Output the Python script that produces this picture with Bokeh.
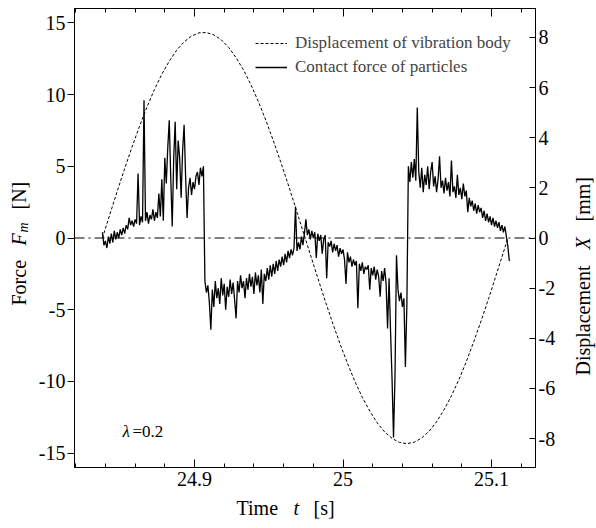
import numpy as np
from math import pi
from bokeh.plotting import figure
from bokeh.layouts import row, column
from bokeh.models import (Range1d, LinearAxis, FixedTicker, Span, Label,
                          Legend, LegendItem)
from bokeh.core.properties import value
from bokeh.embed import file_html
from bokeh.resources import INLINE

# ---------------- data ----------------
# contact force of particles [N], sampled every 1 ms from t = 24.838 s
force_t0 = 24.838
force_dt = 0.001
force = [
    0.4, -0.5, -0.2, -0.7, 0.1, -0.4, 0.3, -0.3, 0.5, -0.1,
    0.4, 0.0, 0.6, 0.2, 0.7, 0.3, 0.9, 0.6, 1.4, 0.9,
    1.2, 0.8, 1.3, 1.0, 4.5, 0.9, 1.5, 1.1, 9.6, 1.2,
    1.8, 1.0, 1.6, 1.3, 2.0, 1.2, 1.8, 1.4, 3.1, 1.5,
    4.1, 1.2, 5.6, 3.8, 6.3, 8.2, 4.2, 0.8, 5.6, 8.1,
    3.4, 6.8, 5.6, 2.8, 6.1, 7.9, 4.3, 1.4, 3.5, 4.2,
    3.0, 3.9, 3.4, 4.3, 4.6, 3.7, 4.9, 4.3, 5.0,
    -3.0, -3.8, -3.3, -4.5, -6.4, -3.6, -4.8, -3.0, -4.2, -3.5,
    -4.6, -2.8, -4.0, -3.2, -5.0, -3.4, -4.1, -2.9, -3.9, -3.1,
    -4.3, -5.6, -3.0, -3.8, -2.6, -3.5, -3.0, -4.2, -2.8, -3.6,
    -2.5, -3.4, -2.7, -3.9, -2.4, -3.3, -2.6, -3.8, -2.2, -4.6,
    -2.5, -3.0, -2.1, -2.9, -1.9, -2.7, -1.8, -2.5, -1.6, -2.3,
    -1.5, -2.0, -1.3, -1.9, -1.1, -1.7, -0.9, -1.4, -0.8, -1.2,
    -0.7, 2.2, -0.9, -0.3, -0.8, 0.1, -0.5, 0.3, 1.3, 0.2,
    0.6, -0.1, 0.5, 0.0, 0.4, -1.4, 0.3, -0.2, 0.2, -1.1,
    -0.1, 0.2, -2.8, -0.3, -0.6, -0.2, -1.0, -0.4, -0.9, -0.5,
    -1.3, -0.7, -1.1, -0.8, -1.5, -3.2, -1.0, -1.7, -1.3, -2.0,
    -1.5, -1.9, -1.6, -4.9, -1.8, -2.3, -1.7, -2.5, -2.0, -2.2,
    -1.9, -3.6, -2.1, -2.6, -2.0, -2.9, -2.2, -2.7, -4.1, -2.3,
    -3.0, -2.1, -3.2, -6.3, -2.8, -6.5, -9.8, -13.9, -9.6, -1.2,
    -3.6, -4.4, -3.8, -4.8, -4.2, -9.0, -4.6,
    5.0, 3.9, 5.3, 4.2, 5.5, 4.0, 9.1, 4.6, 3.5, 4.9,
    3.2, 4.4, 3.7, 5.0, 3.4, 4.6, 5.3, 3.6, 4.3, 3.2,
    4.1, 5.7, 3.5, 4.0, 3.1, 4.2, 3.3, 3.9, 2.9, 5.4,
    3.2, 3.6, 2.8, 4.4, 3.0, 3.5, 2.7, 3.8, 2.9, 3.3,
    1.8, 2.8, 2.2, 2.6, 1.9, 2.4, 1.7, 2.3, 1.8, 2.1,
    1.4, 1.9, 1.2, 1.7, 1.1, 1.5, 0.9, 1.4, 0.8, 1.2,
    0.7, 1.1, 0.5, 0.9, 0.4, 0.8, 0.1, -0.6, -1.6,
]
force_time = np.round(force_t0 + force_dt * np.arange(len(force)), 4)

# displacement of vibration body [mm]
disp_time = [
    24.838, 24.843, 24.848, 24.853, 24.858, 24.863, 24.868, 24.873, 24.878, 24.883,
    24.888, 24.893, 24.898, 24.903, 24.908, 24.913, 24.918, 24.923, 24.928, 24.933,
    24.938, 24.943, 24.948, 24.953, 24.958, 24.963, 24.968, 24.973, 24.978, 24.983,
    24.988, 24.993, 24.998, 25.003, 25.008, 25.013, 25.018, 25.023, 25.028, 25.033,
    25.038, 25.043, 25.048, 25.053, 25.058, 25.063, 25.068, 25.073, 25.078, 25.083,
    25.088, 25.093, 25.098, 25.103, 25.108, 25.111,
]
disp = [
    0.0, 0.94, 1.87, 2.77, 3.64, 4.46, 5.22, 5.92, 6.53, 7.05,
    7.49, 7.82, 8.05, 8.18, 8.19, 8.10, 7.90, 7.60, 7.19, 6.70,
    6.11, 5.44, 4.70, 3.89, 3.04, 2.15, 1.22, 0.28, -0.66, -1.59,
    -2.51, -3.39, -4.22, -5.00, -5.72, -6.35, -6.90, -7.37, -7.73, -7.99,
    -8.15, -8.20, -8.14, -7.97, -7.70, -7.33, -6.85, -6.29, -5.65, -4.93,
    -4.14, -3.30, -2.42, -1.50, -0.57, 0.0,
]

force_ticks = [-15, -10, -5, 0, 5, 10, 15]
force_tick_labels = ["-15", "-10", "-5", "0", "5", "10", "15"]
disp_ticks = [-8, -6, -4, -2, 0, 2, 4, 6, 8]
disp_tick_labels = ["-8", "-6", "-4", "-2", "0", "2", "4", "6", "8"]
time_ticks = [24.9, 25.0, 25.1]
time_tick_labels = ["24.9", "25", "25.1"]
time_minor_ticks = [24.82, 24.84, 24.86, 24.88, 24.90, 24.92, 24.94, 24.96, 24.98,
                    25.00, 25.02, 25.04, 25.06, 25.08, 25.10, 25.12]

legend_labels = ["Displacement of vibration body", "Contact force of particles"]

# ---------------- layout constants ----------------
FONT = "Liberation Serif"
TICK_SIZE = "20px"
TITLE_SIZE = 20
W, H = 596, 528
LEFT_W, RIGHT_W, BOTTOM_H = 32, 36, 33
TOP_B, BOT_B = 8, 28          # borders above / below the frame in the middle row
MID_H = H - BOTTOM_H          # 495
MAIN_W = W - LEFT_W - RIGHT_W  # 528

# ---------------- main figure ----------------
p = figure(width=MAIN_W, height=MID_H,
           x_range=Range1d(24.8192, 25.1296), y_range=Range1d(-16, 16),
           output_backend="svg", toolbar_location=None,
           min_border_left=42, min_border_right=25,
           min_border_top=TOP_B, min_border_bottom=BOT_B)
p.extra_y_ranges = {"disp": Range1d(-9.15, 9.15)}
p.xgrid.visible = False
p.ygrid.visible = False
p.outline_line_color = "black"
p.outline_line_width = 1
p.background_fill_color = "white"
p.border_fill_color = "white"


def style_axis(ax):
    ax.axis_line_color = "black"
    ax.major_tick_line_color = "black"
    ax.minor_tick_line_color = "black"
    ax.major_label_text_font = FONT
    ax.major_label_text_font_size = TICK_SIZE
    ax.major_label_text_color = "black"


left = p.yaxis[0]
left.ticker = FixedTicker(ticks=force_ticks, minor_ticks=[])
left.major_label_overrides = dict(zip(force_ticks, force_tick_labels))
left.major_tick_out = 7
left.major_tick_in = 0
left.minor_tick_out = 0
left.minor_tick_in = 0
left.major_label_standoff = 2
style_axis(left)

right = LinearAxis(y_range_name="disp",
                   ticker=FixedTicker(ticks=disp_ticks, minor_ticks=[]))
right.major_label_overrides = dict(zip(disp_ticks, disp_tick_labels))
right.major_tick_out = 0
right.major_tick_in = 6
right.minor_tick_out = 0
right.minor_tick_in = 0
right.major_label_standoff = 3
style_axis(right)
p.add_layout(right, "right")

bottom = p.xaxis[0]
bottom.ticker = FixedTicker(ticks=time_ticks, minor_ticks=time_minor_ticks)
bottom.major_label_overrides = dict(zip(time_ticks, time_tick_labels))
bottom.major_tick_out = 0
bottom.major_tick_in = 8
bottom.minor_tick_out = 0
bottom.minor_tick_in = 4
bottom.major_label_standoff = 4
style_axis(bottom)

top = LinearAxis(ticker=FixedTicker(ticks=time_ticks, minor_ticks=time_minor_ticks))
top.major_label_overrides = {t: "" for t in time_ticks}
top.major_tick_out = 0
top.major_tick_in = 8
top.minor_tick_out = 0
top.minor_tick_in = 4
top.major_label_standoff = 0
style_axis(top)
p.add_layout(top, "above")

# zero reference line
p.add_layout(Span(location=0, dimension="width", line_color="black",
                  line_width=1, line_dash="10 4 2 4"))

r_disp = p.line(disp_time, disp, y_range_name="disp", line_color="black",
                line_width=1, line_dash="3 2")
r_force = p.line(force_time, force, line_color="black", line_width=1.3)

legend = Legend(items=[LegendItem(label=legend_labels[0], renderers=[r_disp]),
                       LegendItem(label=legend_labels[1], renderers=[r_force])],
                location=(181, 390), border_line_color=None,
                background_fill_alpha=0, label_text_font=FONT,
                label_text_font_size="17px", glyph_width=32, glyph_height=20,
                label_height=20, label_standoff=8, spacing=4, padding=0,
                margin=0)
p.add_layout(legend)

# lambda annotation inside the frame
for txt, lx, style in (("\u03bb", 48, "italic"), ("=0.2", 58, "normal")):
    p.add_layout(Label(x=lx, y=36, x_units="screen", y_units="screen",
                       text=txt, text_font=FONT, text_font_size="17px",
                       text_font_style=style, text_align="left",
                       text_baseline="middle", text_color="black"))


# ---------------- title strips (pixel coordinates) ----------------
def strip(width, height, top_b=0, bot_b=0):
    f = figure(width=width, height=height, output_backend="svg",
               toolbar_location=None, x_axis_location=None,
               y_axis_location=None,
               x_range=Range1d(0, width), y_range=Range1d(0, height - top_b - bot_b),
               min_border_left=0, min_border_right=0,
               min_border_top=top_b, min_border_bottom=bot_b)
    f.xgrid.visible = False
    f.ygrid.visible = False
    f.outline_line_color = None
    f.background_fill_color = "white"
    f.border_fill_color = "white"
    return f


def put(f, txt, x, y, size=TITLE_SIZE, style="normal", angle=0.0):
    f.text(x=[x], y=[y], text=[txt], text_font=value(FONT),
           text_font_size=value(f"{size}px"), text_font_style=value(style),
           angle=angle, text_align=value("left"),
           text_baseline=value("middle"), text_color="black")


left_fig = strip(LEFT_W, MID_H, TOP_B, BOT_B)
lx, ly = 18, 162
put(left_fig, "Force", lx, ly, angle=pi / 2)
put(left_fig, "F", lx, ly + 60, style="italic", angle=pi / 2)
put(left_fig, "m", lx + 5, ly + 73, size=14, style="italic", angle=pi / 2)
put(left_fig, "[N]", lx, ly + 96, angle=pi / 2)

right_fig = strip(RIGHT_W, MID_H, TOP_B, BOT_B)
rx, ry = 22, 92
put(right_fig, "Displacement", rx, ry, angle=pi / 2)
put(right_fig, "X", rx, ry + 126, style="italic", angle=pi / 2)
put(right_fig, "[mm]", rx, ry + 154, angle=pi / 2)

bottom_fig = strip(W, BOTTOM_H)
put(bottom_fig, "Time", 236, 21)
put(bottom_fig, "t", 293, 21, style="italic")
put(bottom_fig, "[s]", 313, 21)

layout = column(row(left_fig, p, right_fig, spacing=0), bottom_fig, spacing=0)

open("out.html", "w").write(file_html(layout, INLINE))
